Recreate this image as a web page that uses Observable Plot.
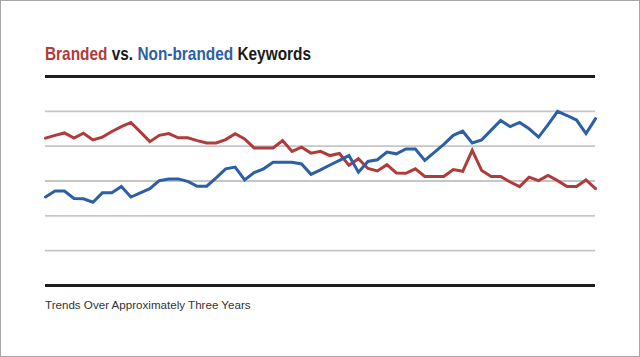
<!DOCTYPE html>
<html>
<head>
<meta charset="utf-8">
<script src="https://cdn.jsdelivr.net/npm/d3@7"></script>
<script src="https://cdn.jsdelivr.net/npm/@observablehq/plot@0.6"></script>
<style>
  html, body { margin: 0; padding: 0; background: #fff; }
  #wrap { position: relative; width: 640px; height: 357px; overflow: hidden; background: #fff; }
  #frame { position: absolute; left: 0; top: 0; width: 640px; height: 357px; box-sizing: border-box; border: 1px solid #a8a8a8; pointer-events: none; }
  #title { position: absolute; left: 45px; top: 43px; font-family: "Liberation Sans", Arial, sans-serif; font-weight: bold; font-size: 19px; color: #1a1a1a; white-space: nowrap; line-height: 22px; transform: scaleX(0.81); transform-origin: 0 0; }
  #title .b { color: #b03b3b; }
  #title .n { color: #2c5fa8; }
  #chart { position: absolute; left: 0; top: 0; }
  #caption { position: absolute; left: 45px; top: 298px; font-family: "Liberation Sans", Arial, sans-serif; font-size: 11.6px; color: #333; white-space: nowrap; line-height: 14px; }
</style>
</head>
<body>
<div id="wrap">
  <div id="title"><span class="b">Branded</span> vs. <span class="n">Non-branded</span> Keywords</div>
  <div id="chart"></div>
  <div id="caption">Trends Over Approximately Three Years</div>
  <div id="frame"></div>
</div>
<script>
// Period index (approx. 59 periods over three years)
const periods = d3.range(59);

// Branded keyword share (arbitrary 0–60 scale)
const branded = [42.3, 43.1, 43.8, 42.3, 43.7, 41.8, 42.6, 44.2, 45.6, 46.8,
  44.1, 41.3, 43.1, 43.6, 42.4, 42.4, 41.6, 40.9, 40.9, 41.9,
  43.6, 42.1, 39.5, 39.5, 39.5, 41.6, 38.5, 39.7, 38.0, 38.5,
  37.3, 37.9, 34.5, 36.4, 33.6, 32.9, 34.7, 32.3, 32.2, 33.5,
  31.3, 31.3, 31.3, 33.3, 32.8, 38.8, 33.0, 31.3, 31.3, 29.7,
  28.4, 31.1, 30.1, 31.6, 30.1, 28.4, 28.4, 30.3, 27.8];

// Non-branded keyword share
const nonBranded = [25.4, 27.1, 27.1, 25.0, 24.9, 23.9, 26.6, 26.6, 28.4, 25.4,
  26.6, 27.8, 30.1, 30.6, 30.6, 29.9, 28.5, 28.5, 30.9, 33.5,
  34.0, 30.3, 32.4, 33.5, 35.4, 35.4, 35.4, 34.9, 31.9, 33.2,
  34.6, 35.9, 37.3, 32.5, 35.6, 36.1, 38.3, 37.8, 39.2, 39.2,
  35.9, 38.2, 40.5, 43.1, 44.3, 40.9, 41.8, 44.6, 47.4, 45.6,
  46.8, 45.0, 42.6, 46.2, 50.0, 48.8, 47.5, 43.6, 47.9];

const gridLines = [10, 20, 30, 40, 50];
const frameLines = [0, 60];

const seriesNames = ["Branded", "Non-branded"];
const seriesColors = ["#b03b3b", "#2c5fa8"];

const data = [
  ...periods.map((p, i) => ({period: p, value: branded[i], series: seriesNames[0]})),
  ...periods.map((p, i) => ({period: p, value: nonBranded[i], series: seriesNames[1]}))
];

const chart = Plot.plot({
  width: 640,
  height: 300,
  marginLeft: 45,
  marginRight: 45,
  marginTop: 76,
  marginBottom: 15,
  x: {domain: [0, 58], axis: null},
  y: {domain: [0, 60], axis: null},
  color: {domain: seriesNames, range: seriesColors},
  marks: [
    Plot.ruleY(gridLines, {stroke: "#c6c6c6", strokeWidth: 1.8}),
    Plot.ruleY(frameLines, {stroke: "#1e1e1e", strokeWidth: 3.2}),
    Plot.line(data, {x: "period", y: "value", z: "series", stroke: "series", strokeWidth: 3, strokeLinejoin: "miter", strokeMiterlimit: 3})
  ]
});
document.getElementById("chart").appendChild(chart);
</script>
</body>
</html>
